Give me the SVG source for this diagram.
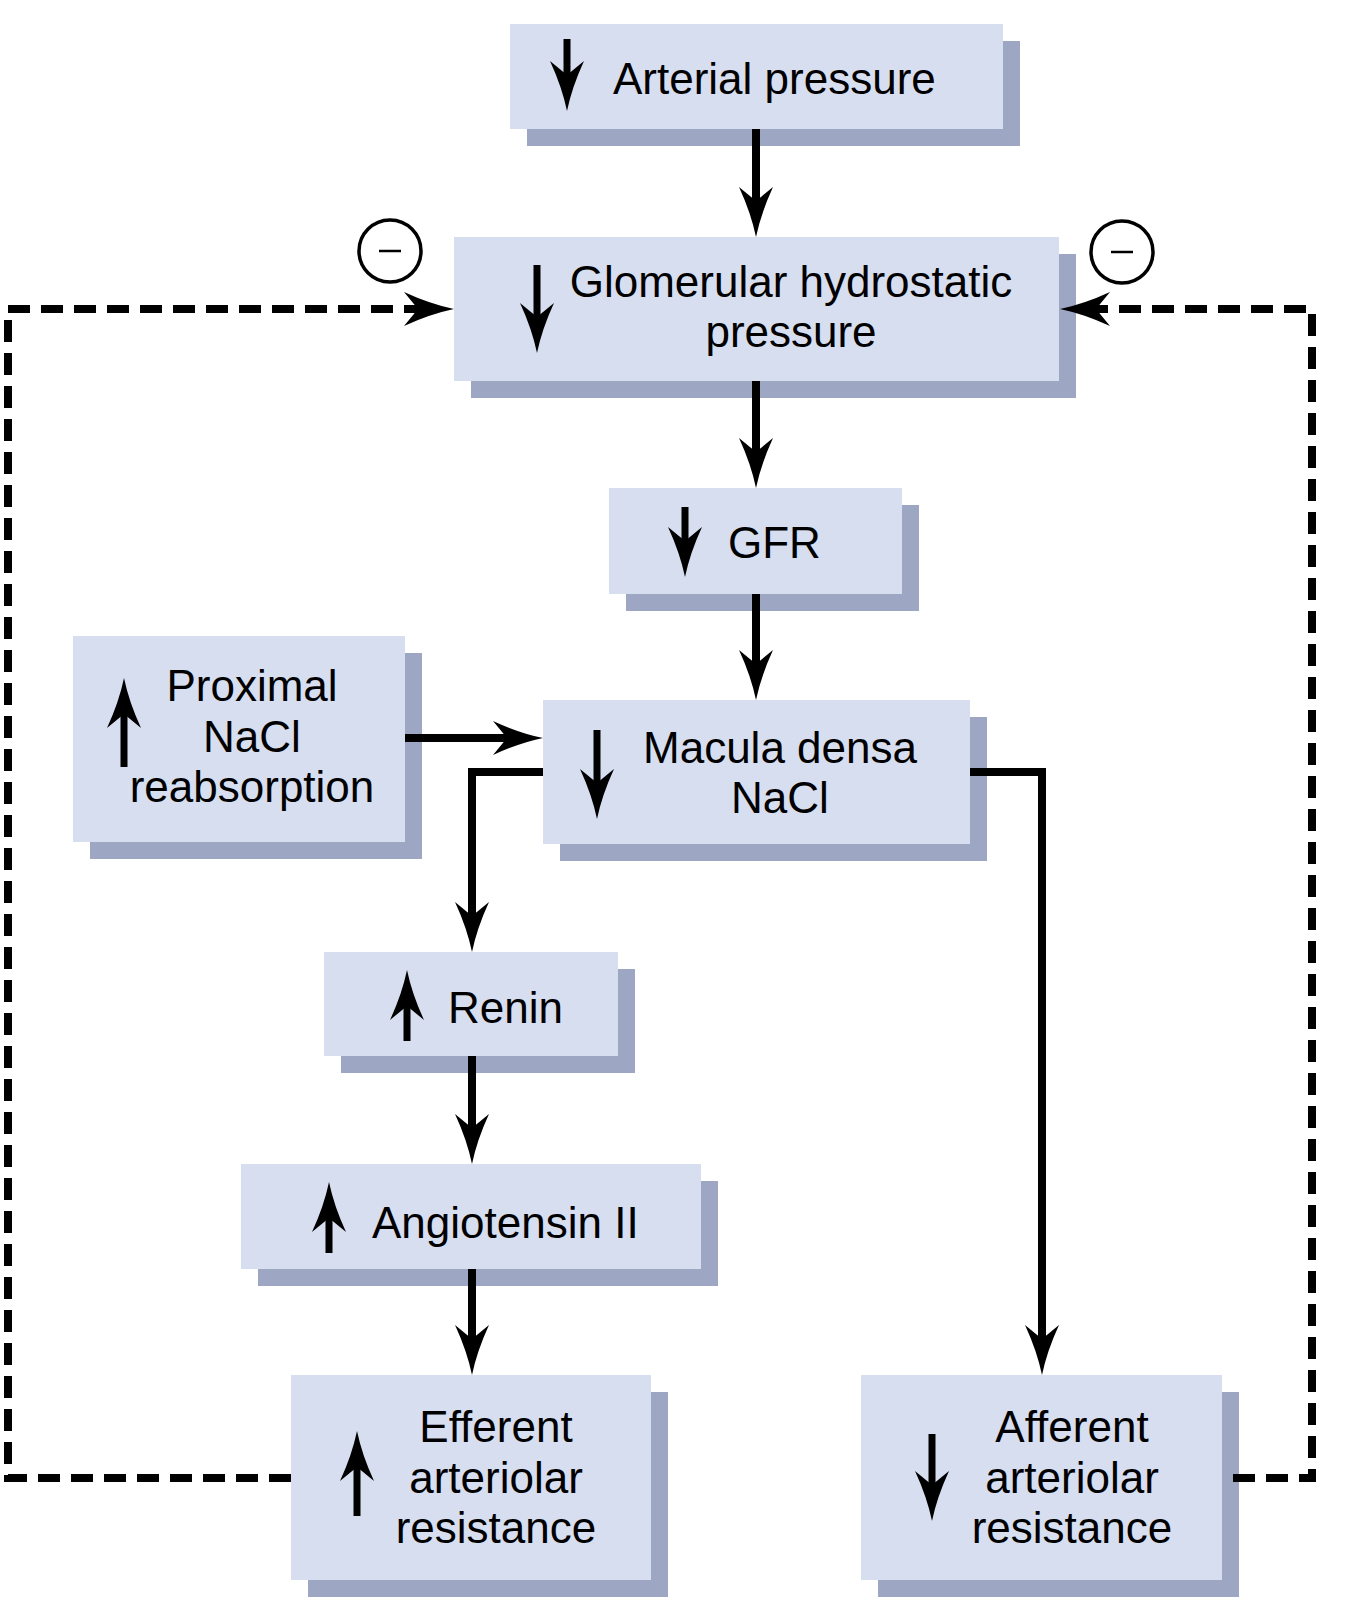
<svg xmlns="http://www.w3.org/2000/svg" width="1362" height="1608" viewBox="0 0 1362 1608">
<style>
.box{fill:#d6def0}
.sh{fill:#9da6c3}
.t{font-family:"Liberation Sans",Arial,sans-serif;font-size:44px;fill:#000}
.m{text-anchor:middle}
.c{fill:none;stroke:#000;stroke-width:8}
.d{fill:none;stroke:#000;stroke-width:8;stroke-dasharray:22 11}
.g{fill:none;stroke:#000;stroke-width:7}
.neg{fill:none;stroke:#000;stroke-width:3.5}
.negm{stroke:#000;stroke-width:2.5}
</style>
<defs>
<marker id="ah" markerUnits="userSpaceOnUse" viewBox="-15 -18 52 36" refX="0" refY="0" markerWidth="52" markerHeight="36" orient="auto" overflow="visible">
<path d="M36 0 Q12 -5 -14 -17 L0 0 L-14 17 Q12 5 36 0 Z" fill="#000"/>
</marker>
</defs>
<rect width="1362" height="1608" fill="#fff"/>

<g id="inhibit-left">
<circle class="neg" cx="390" cy="251" r="31"/>
<line class="negm" x1="379" y1="251" x2="401" y2="251"/>
</g>
<g id="inhibit-right">
<circle class="neg" cx="1122" cy="252" r="31"/>
<line class="negm" x1="1111" y1="252" x2="1133" y2="252"/>
</g>

<g id="arterial">
<rect class="sh" x="527" y="41" width="493" height="105"/>
<rect class="box" x="510" y="24" width="493" height="105"/>
<path class="g" d="M567 39 V75" marker-end="url(#ah)"/>
<text class="t" x="613" y="94">Arterial pressure</text>
</g>

<g id="glomerular">
<rect class="sh" x="471" y="254" width="605" height="144"/>
<rect class="box" x="454" y="237" width="605" height="144"/>
<path class="g" d="M537 265 V317" marker-end="url(#ah)"/>
<text class="t m" x="791" y="297">Glomerular hydrostatic</text>
<text class="t m" x="791" y="347">pressure</text>
</g>

<g id="gfr">
<rect class="sh" x="626" y="505" width="293" height="106"/>
<rect class="box" x="609" y="488" width="293" height="106"/>
<path class="g" d="M685 507 V541" marker-end="url(#ah)"/>
<text class="t" x="728" y="558">GFR</text>
</g>

<g id="proximal">
<rect class="sh" x="90" y="653" width="332" height="206"/>
<rect class="box" x="73" y="636" width="332" height="206"/>
<path class="g" d="M124 767 V714" marker-end="url(#ah)"/>
<text class="t m" x="252" y="701">Proximal</text>
<text class="t m" x="252" y="752">NaCl</text>
<text class="t m" x="252" y="802">reabsorption</text>
</g>

<g id="macula">
<rect class="sh" x="560" y="717" width="427" height="144"/>
<rect class="box" x="543" y="700" width="427" height="144"/>
<path class="g" d="M597 730 V783" marker-end="url(#ah)"/>
<text class="t m" x="780" y="763">Macula densa</text>
<text class="t m" x="780" y="813">NaCl</text>
</g>

<g id="renin">
<rect class="sh" x="341" y="969" width="294" height="104"/>
<rect class="box" x="324" y="952" width="294" height="104"/>
<path class="g" d="M407 1041 V1006" marker-end="url(#ah)"/>
<text class="t" x="448" y="1023">Renin</text>
</g>

<g id="angiotensin">
<rect class="sh" x="258" y="1181" width="460" height="105"/>
<rect class="box" x="241" y="1164" width="460" height="105"/>
<path class="g" d="M329 1253 V1218" marker-end="url(#ah)"/>
<text class="t" x="372" y="1238">Angiotensin II</text>
</g>

<g id="efferent">
<rect class="sh" x="308" y="1392" width="360" height="205"/>
<rect class="box" x="291" y="1375" width="360" height="205"/>
<path class="g" d="M357 1516 V1467" marker-end="url(#ah)"/>
<text class="t m" x="496" y="1442">Efferent</text>
<text class="t m" x="496" y="1493">arteriolar</text>
<text class="t m" x="496" y="1543">resistance</text>
</g>

<g id="afferent">
<rect class="sh" x="878" y="1392" width="361" height="205"/>
<rect class="box" x="861" y="1375" width="361" height="205"/>
<path class="g" d="M932 1434 V1485" marker-end="url(#ah)"/>
<text class="t m" x="1072" y="1442">Afferent</text>
<text class="t m" x="1072" y="1493">arteriolar</text>
<text class="t m" x="1072" y="1543">resistance</text>
</g>

<g id="connectors">
<path class="c" d="M756 129 V201" marker-end="url(#ah)"/>
<path class="c" d="M756 381 V452" marker-end="url(#ah)"/>
<path class="c" d="M756 594 V664" marker-end="url(#ah)"/>
<path class="c" d="M405 738 H507" marker-end="url(#ah)"/>
<path class="c" d="M543 772 H472 V916" marker-end="url(#ah)"/>
<path class="c" d="M472 1056 V1128" marker-end="url(#ah)"/>
<path class="c" d="M472 1269 V1339" marker-end="url(#ah)"/>
<path class="c" d="M970 772 H1042 V1339" marker-end="url(#ah)"/>
<path class="d" d="M291 1478 H8 V309 H418" marker-end="url(#ah)"/>
<path class="d" d="M1233 1478 H1312 V309 H1096" marker-end="url(#ah)"/>
</g>
</svg>
